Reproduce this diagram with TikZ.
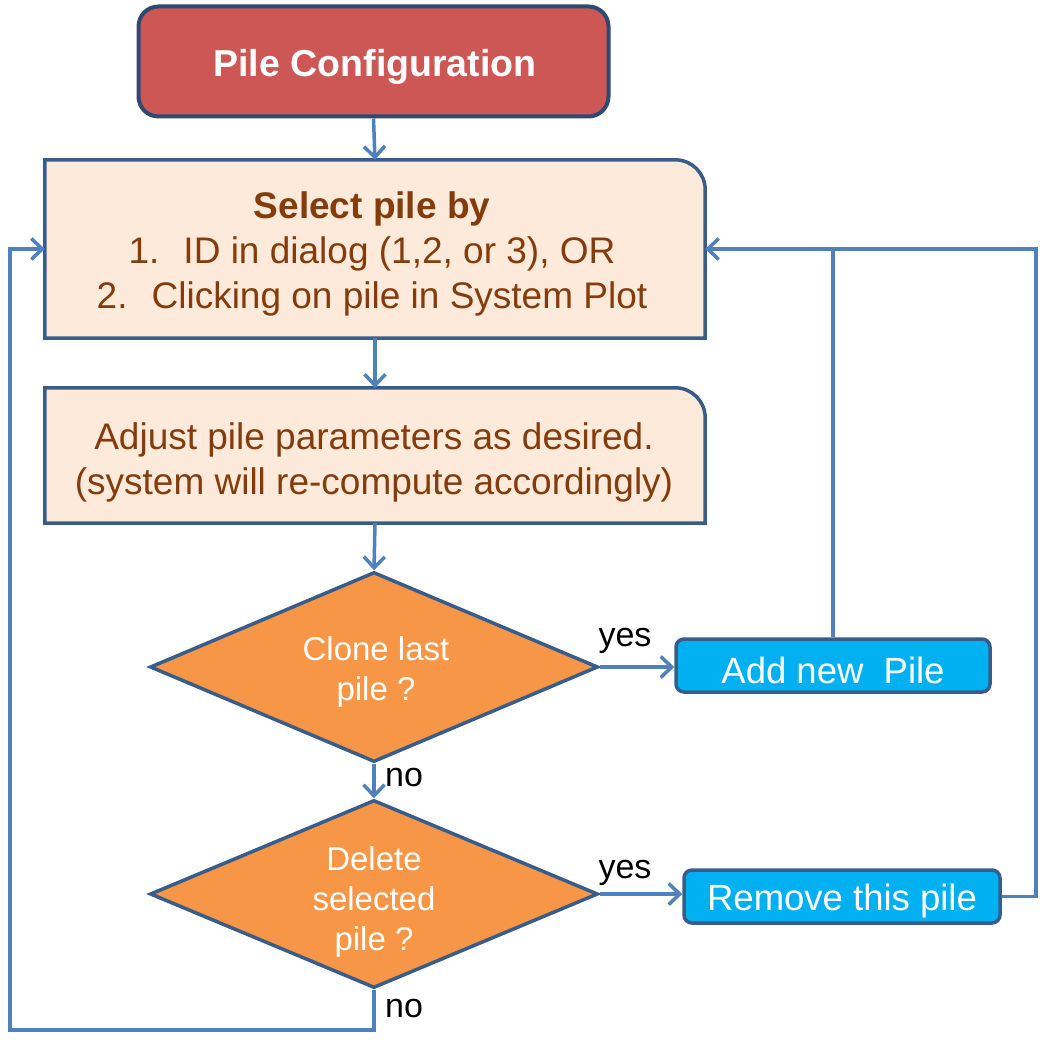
\documentclass[tikz,border=0pt]{standalone}
\usepackage{fontspec}
\setmainfont{Liberation Sans}
\usetikzlibrary{shapes.geometric,arrows.meta,calc,backgrounds}
\definecolor{titlefill}{RGB}{205,87,84}
\definecolor{navy}{RGB}{56,93,138}
\definecolor{navydark}{RGB}{46,74,112}
\definecolor{peach}{RGB}{253,234,218}
\definecolor{txtbrown}{RGB}{133,60,12}
\definecolor{connc}{RGB}{79,129,189}
\definecolor{dorange}{RGB}{247,150,70}
\definecolor{cyanbox}{RGB}{0,176,240}
\newcommand\peachbox[1]{\draw[draw=navy, fill=peach, line width=3.5pt]
  (#1.south west) -- (#1.north west) -- ($(#1.north east)+(-30,0)$)
  .. controls ($(#1.north east)+(-13.4,0)$) and ($(#1.north east)+(0,13.4)$) .. ($(#1.north east)+(0,30)$)
  -- (#1.south east) -- cycle;}
\begin{document}
\begin{tikzpicture}[x=1pt,y=-1pt,
  titlebox/.style={rectangle, rounded corners=20pt, fill=titlefill, draw=navydark, line width=4pt,
    minimum width=470pt, minimum height=110pt, inner sep=0},
  titletext/.style={text=white, inner sep=0, font=\fontsize{37.5}{44}\selectfont\bfseries},
  pbox/.style={rectangle, minimum width=660pt, inner sep=0},
  ptext/.style={inner sep=0, text=txtbrown, align=center, font=\fontsize{37}{45}\selectfont},
  decision/.style={diamond, shape aspect=2.36, fill=dorange, draw=navy, line width=3.5pt, minimum width=448pt,
    minimum height=190pt, inner sep=0},
  dtext/.style={inner sep=0, text=white, align=center, font=\fontsize{33}{40}\selectfont},
  action/.style={rectangle, rounded corners=8pt, fill=cyanbox, draw=navy, line width=3.5pt,
    minimum height=53pt, inner sep=0},
  atext/.style={text=white, inner sep=0, font=\fontsize{36.5}{40}\selectfont},
  conn/.style={draw=connc, line width=3.5pt, -{Straight Barb[length=11pt,width=21pt]}},
  plainline/.style={draw=connc, line width=3.5pt},
  lbl/.style={font=\fontsize{34}{36}\selectfont, text=black, inner sep=0}
]
\useasboundingbox (0,0) rectangle (1046,1043);

% shapes
\node[titlebox] (title) at (373.5,61.5) {};
\node[pbox, minimum height=178pt] (sel) at (375,249) {};
\node[pbox, minimum height=135pt] (adj) at (375,455.5) {};
\begin{scope}[on background layer]
  \peachbox{sel}
  \peachbox{adj}
\end{scope}
\node[decision] (d1) at (374,667) {};
\node[decision, minimum height=188pt, shape aspect=2.383] (d2) at (374,894) {};
\node[action, minimum width=314pt] (add) at (833,665.5) {};
\node[action, minimum width=316pt] (rem) at (842,896.5) {};

% texts
\node[titletext] (titlet) at (375,67) {Pile Configuration};
\node[ptext] (selt) at (372,254)
  {\textbf{Select pile by}\\1.\hspace{0.65em}ID in dialog (1,2, or 3), OR\\2.\hspace{0.65em}Clicking on pile in System Plot};
\node[ptext] (adjt) at (374,462)
  {Adjust pile parameters as desired.\\(system will re-compute accordingly)};
\node[dtext] (d1t) at (376,672) {Clone last\\pile ?};
\node[dtext] (d2t) at (374,902) {Delete\\selected\\pile ?};
\node[atext] (addt) at (833,670) {Add new\ \ Pile};
\node[atext] (remt) at (842,901) {Remove this pile};

\node[lbl] (y1) at (625,641) {yes};
\node[lbl] (n1) at (404,778) {no};
\node[lbl] (y2) at (625,873) {yes};
\node[lbl] (n2) at (404,1009) {no};

\coordinate (jn) at (add.north |- sel.east);
\coordinate (cR) at (1036,249);
\coordinate (cBL) at (10,1030);

% connectors
\draw[conn] (title.south) -- (sel.north);
\draw[conn] (sel.south) -- (adj.north);
\draw[conn] (adj.south) -- (d1.north);
\draw[conn] (d1.east) -- (d1.east -| add.west);
\draw[conn] (d1.south) -- (d2.north);
\draw[conn] (d2.east) -- (d2.east -| rem.west);
\draw[conn] (add.north) |- (sel.east);
\draw[plainline] (rem.east) -| (cR) -- (jn);
\draw[conn] (d2.south) |- (cBL) |- (sel.west);
\end{tikzpicture}
\end{document}
